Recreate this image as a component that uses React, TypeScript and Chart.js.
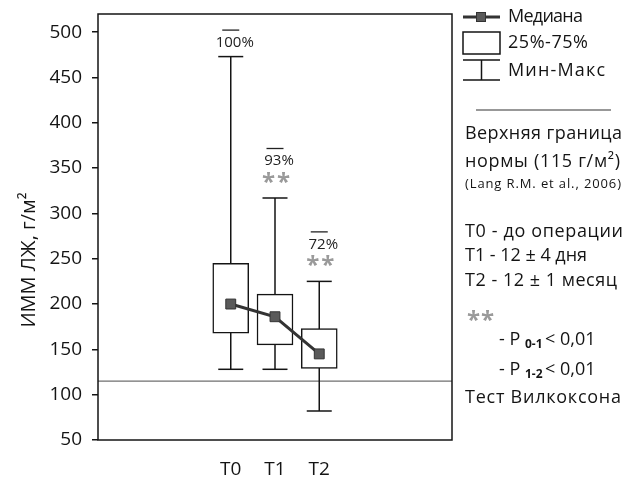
import React, { useEffect, useRef } from "react";
import { Chart, registerables } from "chart.js";

Chart.register(...registerables);

const categories = ["T0", "T1", "T2"];
const minVals = [128, 128, 82];
const q1Vals = [168, 155, 129];
const medianVals = [200, 186, 145];
const q3Vals = [245, 211, 173];
const maxVals = [473, 317, 225];
const pctLabels = ["100%", "93%", "72%"];
const sigMarks = ["", "**", "**"];
const yTicks = [50, 100, 150, 200, 250, 300, 350, 400, 450, 500];
const normLimit = 115;
const yTitle = "ИММ ЛЖ, г/м²";

const FONT = '"Open Sans", "DejaVu Sans", sans-serif';
const INK = "#141414";

function fitText(ctx: any, text: string, x: number, y: number, target: number) {
  ctx.letterSpacing = "0px";
  const w = ctx.measureText(text).width;
  const n = Array.from(text).length;
  const ls = n > 1 ? (target - w) / (n - 1) : 0;
  ctx.letterSpacing = `${ls}px`;
  ctx.fillText(text, x, y);
  ctx.letterSpacing = "0px";
}

const overlayPlugin = {
  id: "overlay",
  afterDatasetsDraw(chart: any) {
    const { ctx, chartArea, scales } = chart;
    const xs = scales.x;
    const ys = scales.y;
    ctx.save();
    // frame
    ctx.strokeStyle = INK;
    ctx.lineWidth = 1.5;
    ctx.strokeRect(chartArea.left, chartArea.top, chartArea.right - chartArea.left, chartArea.bottom - chartArea.top);

    // y title
    ctx.save();
    ctx.translate(29, 260);
    ctx.rotate(-Math.PI / 2);
    ctx.fillStyle = INK;
    ctx.font = `20px ${FONT}`;
    ctx.textAlign = "center";
    ctx.textBaseline = "middle";
    ctx.fillText(yTitle, 0, 0);
    ctx.restore();

    // percent labels & significance marks
    categories.forEach((_, i) => {
      const cx = xs.getPixelForValue(i);
      const capY = ys.getPixelForValue(maxVals[i]);
      const hasSig = sigMarks[i] !== "";
      const ly = capY - (hasSig ? 37 : 14);
      const lx = cx + 4;
      ctx.fillStyle = "#222";
      ctx.font = `15px ${FONT}`;
      ctx.textAlign = "center";
      ctx.textBaseline = "middle";
      ctx.fillText(pctLabels[i], lx, ly);
      ctx.strokeStyle = "#222";
      ctx.lineWidth = 1.3;
      ctx.beginPath();
      ctx.moveTo(lx - 12.5, ly - 12.5);
      ctx.lineTo(lx + 4.5, ly - 12.5);
      ctx.stroke();
      if (hasSig) {
        ctx.fillStyle = "#9a9a9a";
        ctx.font = `bold 24px ${FONT}`;
        ctx.textBaseline = "alphabetic";
        ctx.letterSpacing = "2px";
        ctx.fillText(sigMarks[i], cx + 2, capY - 17 + 9);
        ctx.letterSpacing = "0px";
      }
    });

    // right-side legend
    ctx.fillStyle = INK;
    ctx.textAlign = "left";
    ctx.textBaseline = "middle";
    const f18 = `18px ${FONT}`;

    // median
    ctx.strokeStyle = "#333";
    ctx.lineWidth = 3;
    ctx.beginPath();
    ctx.moveTo(463, 17);
    ctx.lineTo(500, 17);
    ctx.stroke();
    ctx.fillStyle = "#5a5a5a";
    ctx.fillRect(476.5, 12.5, 9, 9);
    ctx.lineWidth = 1;
    ctx.strokeRect(476.5, 12.5, 9, 9);
    ctx.fillStyle = INK;
    ctx.font = f18;
    fitText(ctx, "Медиана", 508, 17, 75);

    // box
    ctx.strokeStyle = INK;
    ctx.lineWidth = 1.5;
    ctx.strokeRect(463, 32, 37, 22);
    fitText(ctx, "25%-75%", 508, 43, 80);

    // whisker
    ctx.beginPath();
    ctx.moveTo(463, 60);
    ctx.lineTo(500, 60);
    ctx.moveTo(463, 80);
    ctx.lineTo(500, 80);
    ctx.moveTo(481.5, 60);
    ctx.lineTo(481.5, 80);
    ctx.stroke();
    fitText(ctx, "Мин-Макс", 508, 71, 97);

    // norm line legend
    ctx.strokeStyle = "#333";
    ctx.lineWidth = 1.2;
    ctx.beginPath();
    ctx.moveTo(476, 110);
    ctx.lineTo(611, 110);
    ctx.stroke();
    fitText(ctx, "Верхняя граница", 465, 134, 157);
    fitText(ctx, "нормы (115 г/м²)", 465, 162, 155);
    ctx.font = `13px ${FONT}`;
    fitText(ctx, "(Lang R.M. et al., 2006)", 465, 184, 156);

    ctx.font = f18;
    fitText(ctx, "T0 - до операции", 465, 232, 158);
    fitText(ctx, "T1 - 12 ± 4 дня", 465, 256, 122);
    fitText(ctx, "T2 - 12 ± 1 месяц", 465, 281, 152);

    ctx.fillStyle = "#9a9a9a";
    ctx.font = `bold 24px ${FONT}`;
    ctx.textBaseline = "alphabetic";
    ctx.letterSpacing = "1px";
    ctx.fillText("**", 467, 320 + 8);
    ctx.letterSpacing = "0px";

    const pRow = (y: number, sub: string) => {
      ctx.fillStyle = INK;
      ctx.textBaseline = "middle";
      ctx.font = f18;
      ctx.fillText("- P", 499, y);
      ctx.font = `bold 12px ${FONT}`;
      ctx.fillText(sub, 525, y + 5);
      ctx.font = f18;
      ctx.fillText("< 0,01", 545, y);
    };
    pRow(340, "0-1");
    pRow(370, "1-2");
    ctx.fillStyle = INK;
    ctx.textBaseline = "middle";
    ctx.font = f18;
    fitText(ctx, "Тест Вилкоксона", 465, 398, 156);
    ctx.restore();
  },
};

export default function App() {
  const ref = useRef<HTMLCanvasElement | null>(null);
  useEffect(() => {
    if (!ref.current) return;
    const whiskerData: any[] = [];
    const capData: any[] = [];
    categories.forEach((_, i) => {
      whiskerData.push({ x: i, y: minVals[i] }, { x: i, y: maxVals[i] }, { x: i, y: null });
      capData.push({ x: i, y: minVals[i] }, { x: i, y: maxVals[i] });
    });
    const chart = new Chart(ref.current, {
      type: "line",
      data: {
        datasets: [
          {
            type: "line",
            data: [
              { x: -3, y: normLimit },
              { x: 5, y: normLimit },
            ],
            borderColor: "#6f6f6f",
            borderWidth: 1.2,
            pointRadius: 0,
            order: 5,
          } as any,
          {
            type: "line",
            data: whiskerData,
            borderColor: INK,
            borderWidth: 1.5,
            pointRadius: 0,
            spanGaps: false,
            order: 4,
          } as any,
          {
            type: "scatter",
            data: capData,
            pointStyle: "line",
            pointRadius: 12.5,
            borderColor: INK,
            pointBorderColor: INK,
            pointBorderWidth: 1.5,
            borderWidth: 1.5,
            order: 3,
          } as any,
          {
            type: "bar",
            data: categories.map((_, i) => ({ x: i, y: [q1Vals[i], q3Vals[i]] })),
            backgroundColor: "#ffffff",
            borderColor: INK,
            borderWidth: 1.5,
            borderSkipped: false,
            barThickness: 36,
            order: 2,
          } as any,
          {
            type: "line",
            data: categories.map((_, i) => ({ x: i, y: medianVals[i] })),
            borderColor: "#333333",
            borderWidth: 3,
            pointStyle: "rect",
            pointRadius: 7,
            pointBackgroundColor: "#5a5a5a",
            pointBorderColor: "#333333",
            pointBorderWidth: 1,
            order: 0,
          } as any,
        ],
      },
      options: {
        animation: false,
        responsive: false,
        devicePixelRatio: 1,
        layout: { padding: { left: 0, right: 181, top: 12, bottom: 0 } },
        plugins: { legend: { display: false }, tooltip: { enabled: false } },
        scales: {
          x: {
            type: "linear",
            min: -3,
            max: 5,
            offset: false,
            grid: { display: false, drawTicks: false },
            border: { display: false },
            afterBuildTicks: (s: any) => {
              s.ticks = categories.map((_, i) => ({ value: i }));
            },
            afterFit: (s: any) => {
              s.height = 41;
              s.paddingLeft = 0;
              s.paddingRight = 0;
            },
            ticks: {
              padding: 18,
              color: INK,
              font: { family: FONT, size: 19 },
              maxRotation: 0,
              autoSkip: false,
              callback: (v: any) => categories[Math.round(Number(v))] ?? "",
            },
          },
          y: {
            type: "linear",
            min: 50,
            max: 520,
            beginAtZero: false,
            grid: { drawOnChartArea: false, drawTicks: true, tickLength: 6, color: INK, lineWidth: 1.5 },
            border: { display: false },
            afterBuildTicks: (s: any) => {
              s.ticks = yTicks.map((v) => ({ value: v }));
            },
            afterFit: (s: any) => {
              s.width = 98;
              s.paddingTop = 0;
              s.paddingBottom = 0;
            },
            ticks: {
              padding: 10,
              color: INK,
              font: { family: FONT, size: 19 },
            },
          },
        },
      },
      plugins: [overlayPlugin],
    });
    return () => chart.destroy();
  }, []);
  return (
    <div style={{ position: "absolute", left: 0, top: 0, width: 633, height: 481, background: "#fff" }}>
      <canvas ref={ref} width={633} height={481} style={{ display: "block" }} />
    </div>
  );
}
